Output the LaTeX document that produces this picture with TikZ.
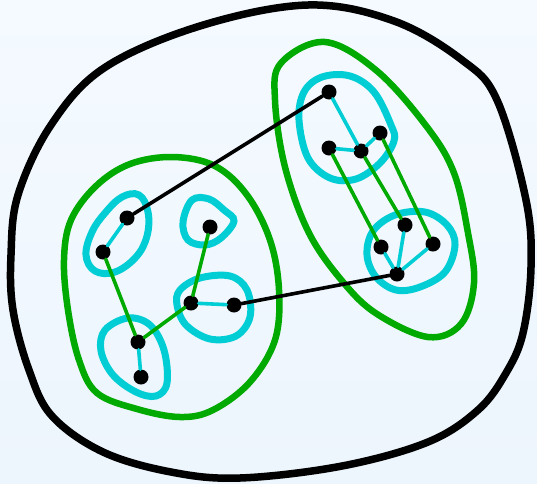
\documentclass[tikz,border=0pt]{standalone}
\usetikzlibrary{backgrounds}
\definecolor{bgtop}{HTML}{F4FAFF}
\definecolor{bgbot}{HTML}{EDF5FD}
\definecolor{grn}{HTML}{00AA00}
\definecolor{cyn}{HTML}{00CED4}
\tikzset{
  dot/.style={circle,fill=black,inner sep=0pt,minimum size=15pt},
  outerblob/.style={draw=black,line width=7.5pt},
  greenblob/.style={draw=grn,line width=6.5pt},
  cyanblob/.style={draw=cyn,line width=7pt},
  bedge/.style={draw=black,line width=3.6pt,line cap=round},
  gedge/.style={draw=grn,line width=3.6pt,line cap=round},
  cedge/.style={draw=cyn,line width=3.6pt,line cap=round}
}
\begin{document}
\begin{tikzpicture}[x=1pt,y=-1pt]
\useasboundingbox (0,0) rectangle (537,483);
\shade[top color=bgtop,bottom color=bgbot] (0,0) rectangle (537,483);
% outer blob
\draw[outerblob] plot[smooth cycle,tension=0.6] coordinates {(308,5) (394,21) (462,60) (497,100) (526,200) (531,267) (523,333) (506,373) (478,410) (428,442) (342,466) (240,478) (171,472) (103,452) (52,416) (29,370) (13,310) (11,255) (18,195) (51,125) (104,68) (200,26)};
% green blobs
\draw[greenblob] plot[smooth cycle,tension=0.6] coordinates {(173,157) (215,166) (247,195) (270,240) (279,290) (275,340) (250,382) (213,410) (180,417) (137,409) (97,393) (79,360) (68,310) (64,260) (71,220) (96,186) (130,164)};
\draw[greenblob] plot[smooth cycle,tension=0.6] coordinates {(325,42) (377,71) (427,127) (454,173) (468,233) (474,283) (461,324) (428,337) (377,314) (343,282) (309,233) (285,167) (275,100) (281,63)};
% cyan blobs
\draw[cyanblob] plot[smooth cycle,tension=0.65] coordinates {(122,197) (139,195) (148,212) (147,236) (136,257) (115,272) (95,271) (86,255) (92,232) (105,213)};
\draw[cyanblob] plot[smooth cycle,tension=0.6] coordinates {(192,200) (209,199) (224,210) (234,221) (221,238) (205,245) (188,240) (183,222)};
\draw[cyanblob] plot[smooth cycle,tension=0.6] coordinates {(180,290) (200,278) (230,276) (247,290) (250,317) (236,336) (210,339) (186,325) (177,305)};
\draw[cyanblob] plot[smooth cycle,tension=0.6] coordinates {(105,330) (128,318) (150,325) (164,350) (167,383) (156,396) (136,392) (113,375) (101,351)};
\draw[cyanblob] plot[smooth cycle,tension=0.6] coordinates {(304,92) (322,77) (350,76) (374,92) (391,125) (394,141) (380,163) (356,179) (330,178) (308,158) (299,120)};
\draw[cyanblob] plot[smooth cycle,tension=0.6] coordinates {(373,231) (395,215) (425,212) (447,225) (455,245) (445,272) (420,287) (396,290) (376,277) (367,255)};
% vertices
\node[dot] (a1) at (127,218) {};
\node[dot] (a2) at (103,252) {};
\node[dot] (a3) at (210,227) {};
\node[dot] (a4) at (191,303) {};
\node[dot] (a5) at (234,305) {};
\node[dot] (a6) at (138,342) {};
\node[dot] (a7) at (141,377) {};
\node[dot] (b1) at (329,92) {};
\node[dot] (b2) at (329,148) {};
\node[dot] (b3) at (361,151) {};
\node[dot] (b4) at (380,133) {};
\node[dot] (b5) at (405,225) {};
\node[dot] (b6) at (381,247) {};
\node[dot] (b7) at (433,244) {};
\node[dot] (b8) at (397,274) {};
% edges
\draw[cedge] (a1) -- (a2);
\draw[cedge] (a4) -- (a5);
\draw[cedge] (a6) -- (a7);
\draw[cedge] (b1) -- (b3);
\draw[cedge] (b2) -- (b3);
\draw[cedge] (b3) -- (b4);
\draw[cedge] (b6) -- (b8);
\draw[cedge] (b5) -- (b8);
\draw[cedge] (b7) -- (b8);
\draw[gedge] (a2) -- (a6);
\draw[gedge] (a6) -- (a4);
\draw[gedge] (a4) -- (a3);
\draw[gedge] (b2) -- (b6);
\draw[gedge] (b3) -- (b5);
\draw[gedge] (b4) -- (b7);
\draw[bedge] (a1) -- (b1);
\draw[bedge] (a5) -- (b8);
\end{tikzpicture}
\end{document}
